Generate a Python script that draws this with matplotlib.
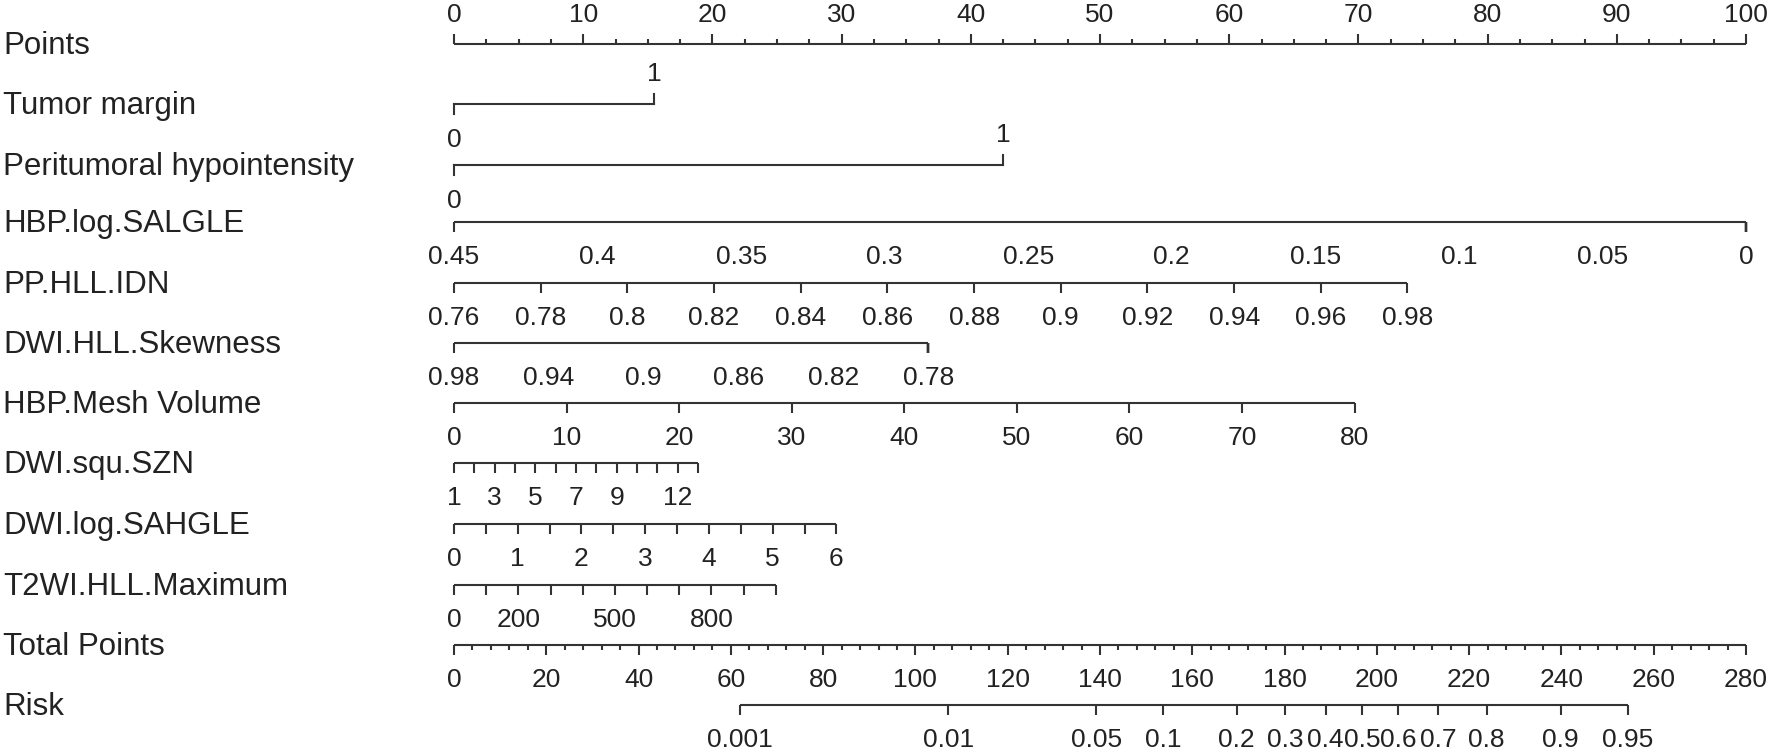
import numpy as np
from matplotlib import pyplot as plt

plt.rcParams['font.family'] = ['Liberation Sans', 'DejaVu Sans']

ROW_NAMES = ['Points', 'Tumor margin', 'Peritumoral hypointensity', 'HBP.log.SALGLE',
             'PP.HLL.IDN', 'DWI.HLL.Skewness', 'HBP.Mesh Volume', 'DWI.squ.SZN',
             'DWI.log.SAHGLE', 'T2WI.HLL.Maximum', 'Total Points', 'Risk']

POINTS_LABELS = [0, 10, 20, 30, 40, 50, 60, 70, 80, 90, 100]
TOTAL_LABELS = [0, 20, 40, 60, 80, 100, 120, 140, 160, 180, 200, 220, 240, 260, 280]

TUMOR_MARGIN = [0, 1]
TUMOR_MARGIN_PTS = [0, 15.5]
PERITUMORAL = [0, 1]
PERITUMORAL_PTS = [0, 42.5]

SALGLE = [0.45, 0.4, 0.35, 0.3, 0.25, 0.2, 0.15, 0.1, 0.05, 0]
SALGLE_PTS = [0, 100]
IDN = [0.76, 0.78, 0.8, 0.82, 0.84, 0.86, 0.88, 0.9, 0.92, 0.94, 0.96, 0.98]
IDN_PTS = [0, 73.8]
SKEW = [0.98, 0.96, 0.94, 0.92, 0.9, 0.88, 0.86, 0.84, 0.82, 0.8, 0.78]
SKEW_LABELS = [0.98, 0.94, 0.9, 0.86, 0.82, 0.78]
SKEW_PTS = [0, 36.7]
MESH = [0, 10, 20, 30, 40, 50, 60, 70, 80]
MESH_PTS = [0, 69.7]
SZN = [1, 2, 3, 4, 5, 6, 7, 8, 9, 10, 11, 12, 13]
SZN_LABELS = [1, 3, 5, 7, 9, 12]
SZN_PTS = [0, 18.9]
SAHGLE = [0, 0.5, 1, 1.5, 2, 2.5, 3, 3.5, 4, 4.5, 5, 5.5, 6]
SAHGLE_LABELS = [0, 1, 2, 3, 4, 5, 6]
SAHGLE_PTS = [0, 29.6]
T2WI = [0, 100, 200, 300, 400, 500, 600, 700, 800, 900, 1000]
T2WI_LABELS = [0, 200, 500, 800]
T2WI_PTS = [0, 24.9]

RISK = [0.001, 0.01, 0.05, 0.1, 0.2, 0.3, 0.4, 0.5, 0.6, 0.7, 0.8, 0.9, 0.95]
RISK_TOTAL = [61.9, 107.1, 139.2, 153.7, 169.6, 180.2, 188.9, 196.8, 204.6, 213.3, 223.8, 239.8, 254.4]

W, H = 1770, 750
X0, PX_PER_PT = 454, 12.92
ROW_Y = [44, 104, 165, 222, 283, 343, 403, 463, 524, 585, 645, 705]
LINE_COLOR = '#333333'
TEXT_COLOR = '#222222'
LW = 1.5
TICK = 10
LABEL_SIZE = 22.5
TICK_SIZE = 19


def fmt(v):
    return '{:g}'.format(v)


def draw_axis(ax, y, xs, ticks_len, labels, label_xs, below=True):
    ax.plot([min(xs), max(xs)], [y, y], color=LINE_COLOR, lw=LW, solid_capstyle='butt')
    sign = 1 if below else -1
    for x, tl in zip(xs, ticks_len):
        ax.plot([x, x], [y, y + sign * tl], color=LINE_COLOR, lw=LW, solid_capstyle='butt')
    off = 42 if below else -22
    for lab, x in zip(labels, label_xs):
        ax.text(x, y + off, lab, ha='center', va='baseline', fontsize=TICK_SIZE, color=TEXT_COLOR)


def linear_scale(values, pts_ends):
    return np.interp(values, [values[0], values[-1]], pts_ends)


def main():
    fig = plt.figure(figsize=(W / 100, H / 100), dpi=100)
    ax = fig.add_axes([0, 0, 1, 1])
    ax.set_xlim(-X0 / PX_PER_PT, (W - X0) / PX_PER_PT)
    ax.set_ylim(H, 0)
    ax.axis('off')

    for name, y in zip(ROW_NAMES, ROW_Y):
        ax.text(-X0 / PX_PER_PT + 3 / PX_PER_PT, y + 10, name, ha='left', va='baseline',
                fontsize=LABEL_SIZE, color=TEXT_COLOR)

    # Points axis, ticks up, labels above
    minor = np.arange(0, 100.01, 2.5)
    lens = [TICK if v % 10 == 0 else TICK / 2 for v in minor]
    draw_axis(ax, ROW_Y[0], minor, lens, [fmt(v) for v in POINTS_LABELS], POINTS_LABELS, below=False)

    # binary variables: 0 below, 1 above
    for row, vals, pts in [(1, TUMOR_MARGIN, TUMOR_MARGIN_PTS), (2, PERITUMORAL, PERITUMORAL_PTS)]:
        y = ROW_Y[row]
        ax.plot([pts[0], pts[1]], [y, y], color=LINE_COLOR, lw=LW)
        ax.plot([pts[0], pts[0]], [y, y + TICK], color=LINE_COLOR, lw=LW)
        ax.plot([pts[1], pts[1]], [y, y - TICK], color=LINE_COLOR, lw=LW)
        ax.text(pts[0], y + 43, fmt(vals[0]), ha='center', va='baseline', fontsize=TICK_SIZE, color=TEXT_COLOR)
        ax.text(pts[1], y - 23, fmt(vals[1]), ha='center', va='baseline', fontsize=TICK_SIZE, color=TEXT_COLOR)

    scales = [
        (3, SALGLE, SALGLE, SALGLE_PTS),
        (4, IDN, IDN, IDN_PTS),
        (5, SKEW, SKEW_LABELS, SKEW_PTS),
        (6, MESH, MESH, MESH_PTS),
        (7, SZN, SZN_LABELS, SZN_PTS),
        (8, SAHGLE, SAHGLE_LABELS, SAHGLE_PTS),
        (9, T2WI, T2WI_LABELS, T2WI_PTS),
    ]
    for row, vals, labs, pts in scales:
        xs = linear_scale(vals, pts)
        lab_xs = np.interp(labs, [vals[0], vals[-1]], pts) if vals[0] < vals[-1] else \
            np.interp(labs, [vals[-1], vals[0]], pts[::-1])
        draw_axis(ax, ROW_Y[row], xs, [TICK] * len(xs), [fmt(v) for v in labs], lab_xs)

    # Total points
    to_pts = 100 / 280
    minor = np.arange(0, 280.01, 4)
    lens = [TICK if v % 20 == 0 else TICK / 2 for v in minor]
    draw_axis(ax, ROW_Y[10], minor * to_pts, lens, [fmt(v) for v in TOTAL_LABELS],
              np.array(TOTAL_LABELS) * to_pts)

    # Risk
    rx = np.array(RISK_TOTAL) * to_pts
    draw_axis(ax, ROW_Y[11], rx, [TICK] * len(rx), [fmt(v) for v in RISK], rx)

    fig.savefig('out.png', dpi=100)


if __name__ == '__main__':
    main()
